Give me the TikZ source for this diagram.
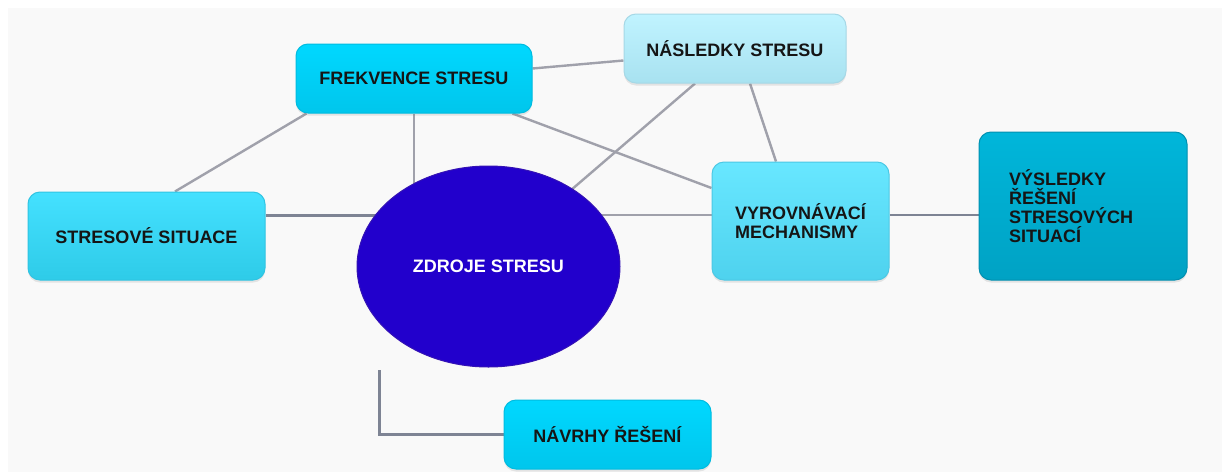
\documentclass[tikz,border=0pt]{standalone}
\usepackage{fontspec}
\setmainfont{Liberation Sans}
\usetikzlibrary{shapes.geometric,calc,shadows,backgrounds}
\definecolor{bggray}{HTML}{F9F9F9}
\definecolor{linegray}{HTML}{A0A1AB}
\definecolor{darkline}{HTML}{7E8494}
\definecolor{txt}{HTML}{151515}
\definecolor{cyanT}{HTML}{00D8FF}
\definecolor{cyanB}{HTML}{00C6EC}
\definecolor{cyanD}{HTML}{00BCE0}
\definecolor{paleT}{HTML}{C0F3FF}
\definecolor{paleB}{HTML}{A8E2F0}
\definecolor{paleD}{HTML}{A6D8E6}
\definecolor{skyT}{HTML}{44E1FF}
\definecolor{skyB}{HTML}{2ECBE8}
\definecolor{skyD}{HTML}{30C4E2}
\definecolor{ltT}{HTML}{68E7FF}
\definecolor{ltB}{HTML}{4ED2EE}
\definecolor{ltD}{HTML}{4CC8E4}
\definecolor{tealT}{HTML}{00B6DA}
\definecolor{tealB}{HTML}{00A2C4}
\definecolor{tealD}{HTML}{0090B0}
\definecolor{indigoF}{HTML}{2200CC}
\definecolor{indigoD}{HTML}{3412B4}
\tikzset{
  box/.style={rectangle, rounded corners=12pt, line width=1pt, font=\bfseries\fontsize{18}{19}\selectfont, text=txt,
    drop shadow={shadow xshift=0pt, shadow yshift=-2.5pt, opacity=0.18}},
  conn/.style={draw=linegray, line width=2.4pt},
  darkconn/.style={draw=darkline, line width=3pt},
}
\begin{document}
\begin{tikzpicture}[x=1pt,y=-1pt]
\useasboundingbox (0,0) rectangle (1224,472);

\node[box, minimum width=236pt, minimum height=69pt, top color=cyanT, bottom color=cyanB, draw=cyanD] (frek) at (414,78.5) {FREKVENCE STRESU};
\node[box, minimum width=222pt, minimum height=69pt, top color=paleT, bottom color=paleB, draw=paleD] (nasl) at (735,48.5) {NÁSLEDKY STRESU};
\node[box, minimum width=237pt, minimum height=88pt, top color=skyT, bottom color=skyB, draw=skyD] (stres) at (146.5,236) {STRESOVÉ SITUACE};
\node[ellipse, minimum width=263pt, minimum height=201pt, fill=indigoF, draw=indigoD, line width=1pt, text=white, font=\bfseries\fontsize{18}{19}\selectfont] (zdroj) at (488.5,266.5) {ZDROJE STRESU};
\node[box, minimum width=177pt, minimum height=118pt, top color=ltT, bottom color=ltB, draw=ltD, align=left] (vyrov) at (800.5,221) {VYROVNÁVACÍ\\MECHANISMY};
\node[box, minimum width=208pt, minimum height=148pt, top color=tealT, bottom color=tealB, draw=tealD, text width=148pt, align=left, font=\bfseries\fontsize{18}{19}\selectfont] (vysl) at (1083,206) {VÝSLEDKY\\ŘEŠENÍ\\STRESOVÝCH\\SITUACÍ};
\node[box, minimum width=207pt, minimum height=69pt, top color=cyanT, bottom color=cyanB, draw=cyanD] (navrh) at (607.5,434.5) {NÁVRHY ŘEŠENÍ};
\coordinate (lstart) at (379,370);

\begin{scope}[on background layer]
\fill[white] (0,0) rectangle (1224,472);
\fill[bggray] (8,8) rectangle (1222,472);
\draw[conn] ($(frek.south west)+(11,0)$) -- ($(stres.north)+(28.5,0)$);
\draw[conn] ($(frek.east)+(0,-10)$) -- ($(nasl.west)+(0,12)$);
\draw[conn] (frek.south) -- (frek.south |- zdroj.center);
\draw[conn] ($(frek.south east)+(-20,0)$) -- ($(vyrov.west)+(0,-33)$);
\draw[conn] ($(nasl.south)+(-40,0)$) -- ($(zdroj.center)+(82,-76)$);
\draw[conn] ($(nasl.south)+(15,0)$) -- ($(vyrov.north)+(-24.5,0)$);
\draw[darkconn] ($(stres.east)+(0,-21)$) -- ($(zdroj.center)+(0,-51.5)$);
\draw[conn] ($(zdroj.center)+(0,-51.5)$) -- ($(vyrov.west)+(0,-6)$);
\draw[draw=darkline, line width=1.6pt] ($(vyrov.east)+(0,-6)$) -- ($(vysl.west)+(0,9)$);
\draw[darkconn] (lstart) |- (navrh.west);
\end{scope}
\end{tikzpicture}
\end{document}
